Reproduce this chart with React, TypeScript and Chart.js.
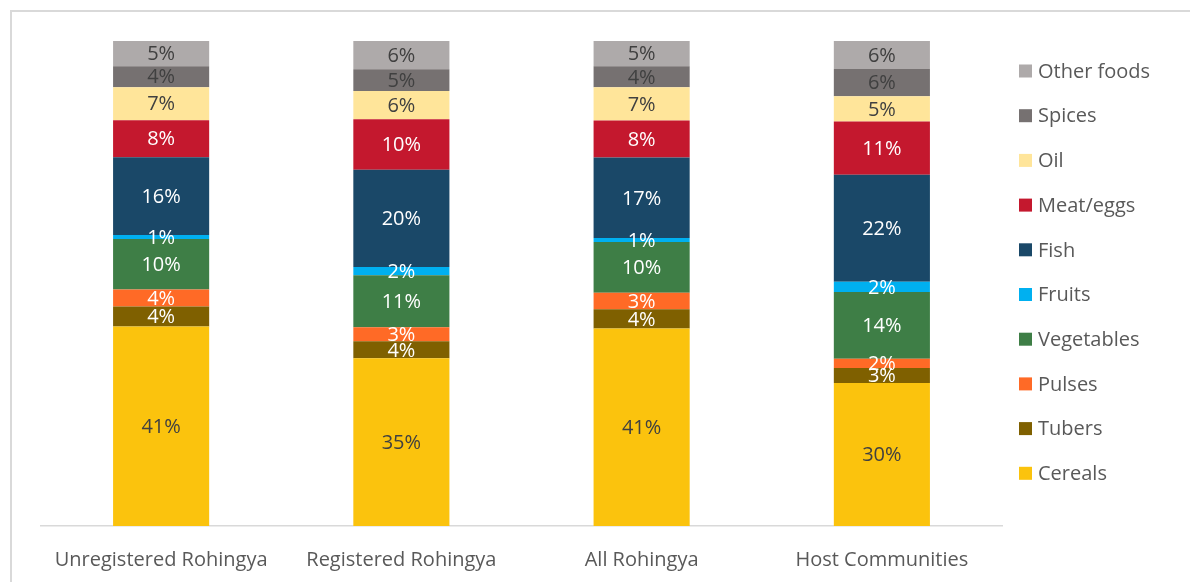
import { useEffect, useRef } from 'react';
import { Chart, registerables } from 'chart.js';

Chart.register(...registerables);

const FONT = '"Open Sans", "Noto Sans", sans-serif';

const categories = ['Unregistered Rohingya', 'Registered Rohingya', 'All Rohingya', 'Host Communities'];

const seriesNames = ['Cereals', 'Tubers', 'Pulses', 'Vegetables', 'Fruits', 'Fish', 'Meat/eggs', 'Oil', 'Spices', 'Other foods'];

const cereals = [41.0, 34.5, 40.5, 29.5];
const tubers = [4.1, 3.5, 3.9, 3.1];
const pulses = [3.5, 2.9, 3.4, 1.9];
const vegetables = [10.4, 10.7, 10.4, 13.8];
const fruits = [0.8, 1.7, 0.8, 2.1];
const fish = [16.0, 20.0, 16.5, 22.1];
const meatEggs = [7.6, 10.4, 7.6, 11.0];
const oil = [6.8, 5.8, 6.8, 5.2];
const spices = [4.3, 4.5, 4.3, 5.6];
const otherFoods = [5.2, 5.8, 5.2, 5.8];

const seriesValues = [cereals, tubers, pulses, vegetables, fruits, fish, meatEggs, oil, spices, otherFoods];

const seriesColors = ['#FBC30D', '#7F6000', '#FF6A26', '#3E7E46', '#00B0F0', '#1A4868', '#C4182E', '#FFE59A', '#767171', '#AEAAAA'];
const labelColors = ['#404040', '#FFFFFF', '#FFFFFF', '#FFFFFF', '#FFFFFF', '#FFFFFF', '#FFFFFF', '#404040', '#404040', '#404040'];

const totals = categories.map((_, j) => seriesValues.reduce((s, arr) => s + arr[j], 0));

export default function App() {
  const ref = useRef<HTMLCanvasElement | null>(null);

  useEffect(() => {
    if (!ref.current) return;

    const dataLabels = {
      id: 'dataLabels',
      afterDatasetsDraw(chart: any) {
        const ctx = chart.ctx;
        ctx.save();
        ctx.font = `20px ${FONT}`;
        ctx.textAlign = 'center';
        ctx.textBaseline = 'middle';
        chart.data.datasets.forEach((ds: any, i: number) => {
          const meta = chart.getDatasetMeta(i);
          meta.data.forEach((bar: any, j: number) => {
            const p = bar.getProps(['x', 'y', 'base'], true);
            ctx.fillStyle = labelColors[i];
            ctx.fillText(Math.round(seriesValues[i][j]) + '%', p.x, (p.y + p.base) / 2 + 1);
          });
        });
        ctx.restore();
      },
    };

    const sideLegend = {
      id: 'sideLegend',
      afterDraw(chart: any) {
        const ctx = chart.ctx;
        ctx.save();
        ctx.font = `20px ${FONT}`;
        ctx.textAlign = 'left';
        ctx.textBaseline = 'middle';
        const n = chart.data.datasets.length;
        for (let i = n - 1; i >= 0; i--) {
          const row = n - 1 - i;
          const y = 71 + row * 44.7;
          ctx.fillStyle = chart.data.datasets[i].backgroundColor;
          ctx.fillRect(1019, y - 6.5, 13, 13);
          ctx.fillStyle = '#595959';
          ctx.fillText(chart.data.datasets[i].label, 1038, y + 1);
        }
        ctx.restore();
      },
    };

    const chart = new Chart(ref.current, {
      type: 'bar',
      data: {
        labels: categories,
        datasets: seriesNames.map((name, i) => ({
          label: name,
          data: seriesValues[i].map((v, j) => (v / totals[j]) * 100),
          backgroundColor: seriesColors[i],
          borderWidth: 0,
          barPercentage: 0.4,
          categoryPercentage: 1,
        })),
      },
      options: {
        animation: false,
        responsive: false,
        maintainAspectRatio: false,
        layout: { padding: { left: 41, right: 188, top: 41, bottom: 14 } },
        plugins: {
          legend: { display: false },
          tooltip: { enabled: false },
        },
        scales: {
          x: {
            stacked: true,
            grid: { display: false, drawTicks: false },
            border: { display: true, color: '#D9D9D9', width: 1.5 },
            ticks: { color: '#595959', font: { family: FONT, size: 20 }, padding: 22 },
          },
          y: {
            stacked: true,
            display: false,
            min: 0,
            max: 100,
          },
        },
      },
      plugins: [dataLabels, sideLegend],
    });

    return () => chart.destroy();
  }, []);

  return (
    <>
      <div
        style={{
          position: 'fixed',
          left: 10,
          top: 10,
          width: 1220,
          height: 640,
          border: '2px solid #D9D9D9',
          boxSizing: 'border-box',
        }}
      />
      <canvas
        ref={ref}
        width={1190}
        height={608}
        style={{ position: 'fixed', left: 0, top: 0, width: 1190, height: 608 }}
      />
    </>
  );
}
